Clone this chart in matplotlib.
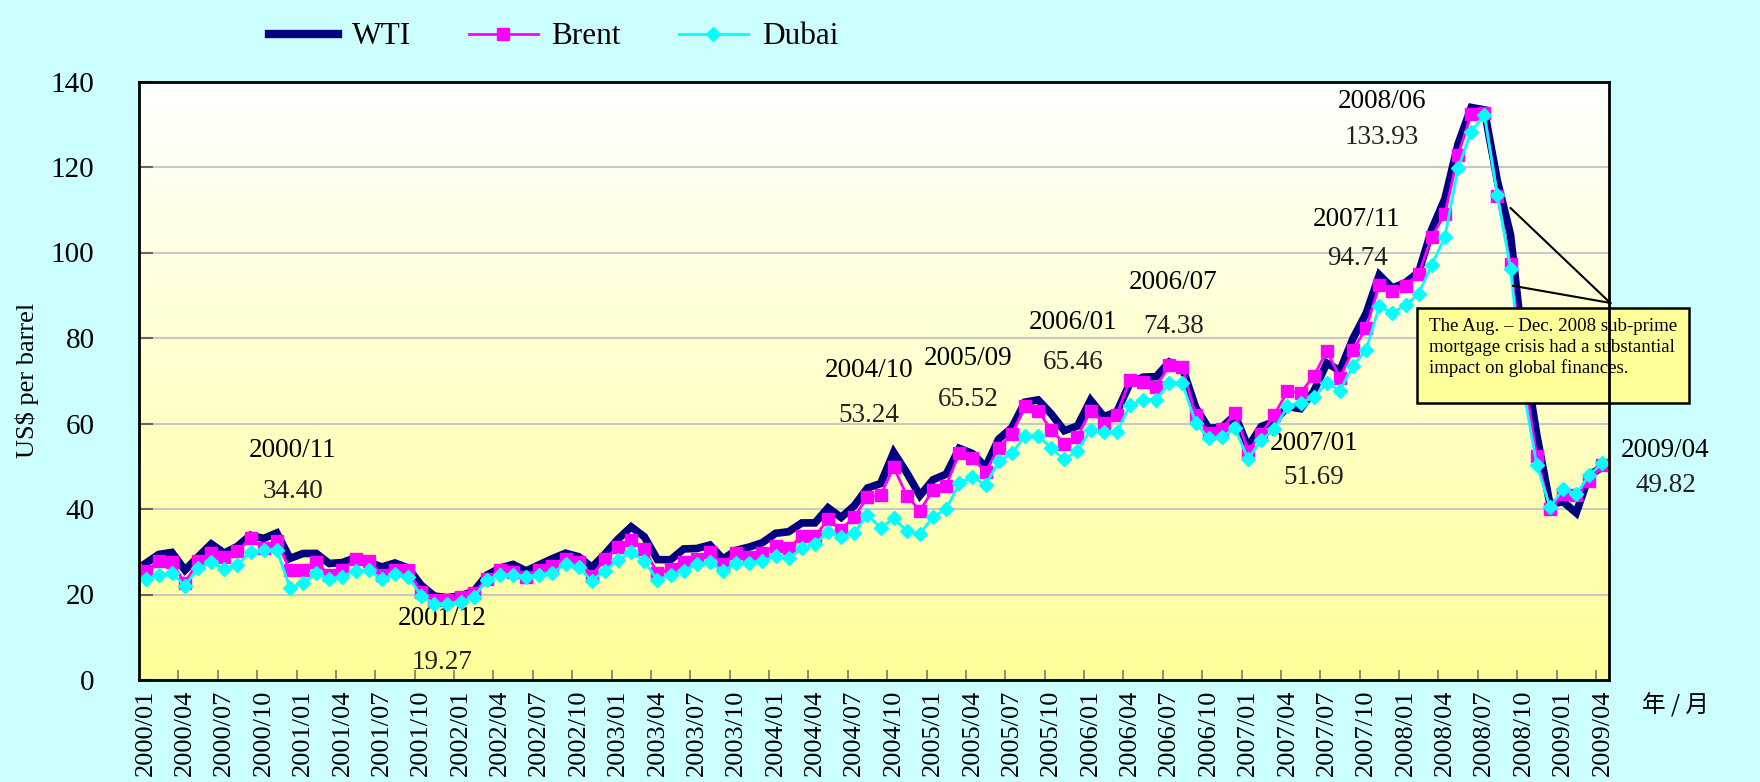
import matplotlib
matplotlib.use("Agg")
import matplotlib.pyplot as plt
import numpy as np
from matplotlib.colors import LinearSegmentedColormap
from matplotlib.lines import Line2D
from matplotlib.patches import Rectangle

plt.rcParams['font.family'] = ['Liberation Serif', 'Noto Sans CJK TC', 'DejaVu Sans']

# monthly spot prices, 2000/01 - 2009/04 (US$ per barrel)
years = list(range(2000, 2010))
months = [f"{y}/{m:02d}" for y in years for m in range(1, 13)][:112]

wti = [27.26, 29.37, 29.84, 25.72, 28.79, 31.82, 29.70, 31.26, 33.88, 33.11, 34.40, 28.44,
       29.59, 29.61, 27.25, 27.49, 28.63, 27.60, 26.43, 27.37, 26.20, 22.17, 19.64, 19.27,
       19.72, 20.72, 24.53, 26.18, 27.04, 25.52, 26.97, 28.39, 29.66, 28.84, 26.35, 29.46,
       32.95, 35.83, 33.51, 28.17, 28.11, 30.66, 30.76, 31.57, 28.31, 30.34, 31.11, 32.13,
       34.31, 34.69, 36.74, 36.75, 40.28, 38.03, 40.78, 44.90, 45.94, 53.24, 48.47, 43.15,
       46.84, 48.15, 54.19, 52.98, 49.83, 56.35, 59.00, 64.99, 65.52, 62.26, 58.32, 59.41,
       65.46, 61.63, 62.69, 69.44, 70.84, 70.95, 74.38, 73.04, 63.80, 58.89, 59.08, 61.96,
       54.51, 59.28, 60.44, 63.98, 63.46, 67.49, 74.12, 72.36, 79.92, 85.80, 94.74, 91.69,
       92.97, 95.39, 105.45, 112.58, 125.40, 133.93, 133.37, 116.67, 104.11, 76.61, 57.31, 41.12,
       41.71, 39.09, 47.94, 49.82]

brent = [25.51, 27.78, 27.49, 22.76, 27.74, 29.80, 28.68, 30.20, 33.14, 30.96, 32.55, 25.66,
         25.62, 27.50, 24.50, 25.66, 28.31, 27.85, 24.61, 25.68, 25.62, 20.54, 18.80, 18.71,
         19.42, 20.28, 23.70, 25.73, 25.35, 24.08, 25.74, 26.65, 28.40, 27.54, 24.34, 28.33,
         31.18, 32.77, 30.61, 25.00, 25.86, 27.65, 28.35, 29.89, 27.11, 29.61, 28.75, 29.81,
         31.28, 30.86, 33.63, 33.59, 37.57, 35.18, 38.22, 42.74, 43.20, 49.78, 43.11, 39.60,
         44.51, 45.48, 53.10, 51.88, 48.65, 54.35, 57.52, 63.98, 62.91, 58.54, 55.24, 56.86,
         62.99, 60.21, 62.06, 70.26, 69.78, 68.56, 73.67, 73.23, 61.96, 57.81, 58.76, 62.47,
         53.68, 57.56, 62.05, 67.49, 67.21, 71.05, 76.93, 70.76, 77.17, 82.34, 92.41, 90.93,
         92.18, 94.99, 103.64, 109.07, 122.80, 132.32, 132.72, 113.24, 97.23, 71.58, 52.45, 39.95,
         43.44, 43.32, 46.54, 50.18]

dubai = [23.6, 24.6, 25.0, 22.1, 26.1, 27.5, 26.0, 26.9, 30.0, 30.4, 30.4, 21.6,
         22.6, 25.1, 23.6, 24.2, 25.6, 25.7, 23.6, 24.7, 24.2, 19.7, 17.8, 17.8,
         18.3, 19.3, 23.4, 24.6, 24.6, 24.2, 24.6, 25.1, 27.1, 26.4, 23.2, 25.6,
         28.1, 29.9, 27.8, 23.4, 24.6, 25.6, 27.1, 27.5, 25.5, 27.3, 27.4, 27.9,
         29.0, 28.5, 30.8, 31.8, 34.7, 33.4, 34.5, 38.6, 35.6, 37.8, 34.9, 34.2,
         38.2, 40.0, 46.0, 47.6, 45.5, 51.2, 53.0, 57.1, 57.1, 54.2, 51.6, 53.6,
         58.5, 58.1, 57.9, 64.3, 65.5, 65.6, 69.5, 69.4, 60.2, 56.5, 56.9, 58.9,
         51.69, 56.1, 58.6, 64.1, 64.9, 66.1, 69.5, 67.7, 73.5, 77.3, 87.4, 85.9,
         87.7, 90.4, 97.1, 103.7, 119.7, 128.3, 132.2, 113.5, 96.1, 67.5, 50.3, 40.5,
         44.6, 43.4, 48.0, 50.7]

# (date label, value label, x in months, y of date line, y of value line)
notes = [("2000/11", "34.40", 11.2, 53.6, 44.0),
         ("2001/12", "19.27", 22.6, 14.5, 4.2),
         ("2004/10", "53.24", 55.1, 72.3, 61.8),
         ("2005/09", "65.52", 62.7, 75.1, 65.5),
         ("2006/01", "65.46", 70.7, 83.7, 74.2),
         ("2006/07", "74.38", 78.3, 92.9, 82.8),
         ("2007/01", "51.69", 89.0, 55.4, 47.4),
         ("2007/11", "94.74", 92.3, 107.8, 98.7),
         ("2008/06", "133.93", 94.2, 135.4, 126.8),
         ("2009/04", "49.82", 115.8, 53.6, 45.6)]

x = np.arange(len(months))

fig = plt.figure(figsize=(17.6, 7.82), dpi=100, facecolor="#CCFFFF")
ax = fig.add_axes([139/1760, 1-680/782, 1470/1760, 598.5/782])

# white-to-yellow gradient plot area
grad = LinearSegmentedColormap.from_list("wy", ["#FFFF99", "#FFFFFF"])
ax.imshow(np.linspace(0, 1, 256).reshape(-1, 1), extent=[-0.5, 111.5, 0, 140],
          aspect="auto", origin="lower", cmap=grad, zorder=0)

ax.plot(x, wti, color="#000080", lw=5.5, zorder=3, solid_joinstyle="miter")
ax.plot(x, brent, color="#FF00FF", lw=2, marker="s", ms=9, zorder=4)
ax.plot(x, dubai, color="#00FFFF", lw=2, marker="D", ms=7, zorder=5)

ax.set_xlim(-0.5, 111.5)
ax.set_ylim(0, 140)
ax.set_yticks(range(0, 141, 20))
ax.yaxis.grid(True, color="#C8C8C8", lw=1.5)
ax.set_axisbelow(True)

ax.set_xticks(x[::3])
ax.set_xticklabels(months[::3], rotation=90, fontsize=19)
ax.set_xticks(np.arange(2.5, 111, 3), minor=True)
ax.tick_params(axis="x", which="major", length=0, pad=7)
ax.tick_params(axis="x", which="minor", direction="in", length=7, width=1.2, color="#777777")
ax.tick_params(axis="y", direction="in", length=10, width=1.5, color="#666666",
               labelsize=21, pad=32)

for s in ax.spines.values():
    s.set_linewidth(2)
    s.set_color("black")
    s.set_zorder(12)

ax.set_ylabel("US$ per barrel", fontsize=19)
ax.yaxis.set_label_coords(-0.068, 0.5)

for date, val, nx, y1, y2 in notes:
    ax.text(nx, y1, date, ha="center", va="center", fontsize=19.5, color="black")
    ax.text(nx, y2, val, ha="center", va="center", fontsize=19.5, color="#222222")

# callout about the sub-prime crisis
ax.add_patch(Rectangle((96.9, 64.8), 20.7, 22.2, facecolor="#FFFF99", edgecolor="black",
                       lw=1.8, zorder=10, clip_on=False))
ax.text(97.8, 84.6, "The Aug. \u2013 Dec. 2008 sub-prime\nmortgage crisis had a substantial\nimpact on global finances.",
        ha="left", va="top", fontsize=13.6, linespacing=1.25, zorder=11)
ax.plot([111.6, 104.0], [88.2, 110.4], color="black", lw=1.5, zorder=11, clip_on=False)
ax.plot([111.6, 104.2], [88.2, 92.2], color="black", lw=1.5, zorder=11, clip_on=False)

fig.text(1675/1760, 1-705/782, "年 / 月", ha="center", va="center", fontsize=17,
         family=["Noto Sans CJK TC"])

handles = [Line2D([], [], color="#000080", lw=6),
           Line2D([], [], color="#FF00FF", lw=2, marker="s", ms=9),
           Line2D([], [], color="#00FFFF", lw=2, marker="D", ms=7)]
fig.legend(handles, ["WTI", "Brent", "Dubai"], loc="center left",
           bbox_to_anchor=(269/1760, 1-37/782), ncol=3, frameon=False, fontsize=22.5,
           handlelength=2.2, handletextpad=0.45, columnspacing=1.85,
           borderpad=0, borderaxespad=0)

fig.savefig("out.png", dpi=100, facecolor=fig.get_facecolor())
